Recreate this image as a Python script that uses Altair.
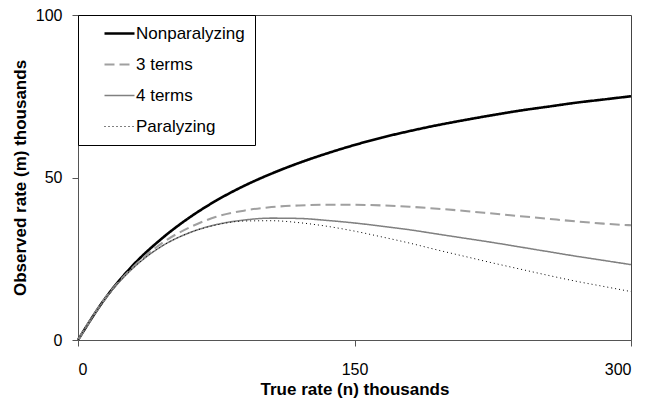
import altair as alt
import pandas as pd

# True rate n (thousands), sampled every 15
true_rate = [0, 15, 30, 45, 60, 75, 90, 105, 120, 135, 150,
             165, 180, 195, 210, 225, 240, 255, 270, 285, 300]

# Observed rate m (thousands)
nonparalyzing = [0, 13.0, 23.1, 31.0, 37.5, 42.9, 47.4, 51.2, 54.5, 57.4, 60.0,
                 62.3, 64.3, 66.1, 67.7, 69.2, 70.6, 71.8, 73.0, 74.0, 75.0]
three_terms = [0, 13.0, 22.5, 29.6, 34.5, 37.9, 39.8, 40.9, 41.4, 41.6, 41.6,
               41.4, 41.0, 40.4, 39.7, 38.9, 38.1, 37.3, 36.5, 35.8, 35.3]
four_terms = [0, 12.9, 22.2, 28.7, 32.9, 35.5, 36.9, 37.5, 37.4, 36.8, 36.0,
              35.0, 33.9, 32.6, 31.3, 30.0, 28.6, 27.2, 25.8, 24.5, 23.2]
paralyzing = [0, 12.9, 22.2, 28.7, 32.9, 35.4, 36.6, 36.7, 36.1, 35.0, 33.5,
              31.7, 29.8, 27.7, 25.7, 23.7, 21.8, 19.9, 18.1, 16.5, 14.9]

series_names = ['Nonparalyzing', '3 terms', '4 terms', 'Paralyzing']
series_values = [nonparalyzing, three_terms, four_terms, paralyzing]

rows = []
for name, vals in zip(series_names, series_values):
    for n, m in zip(true_rate, vals):
        rows.append({'n': n, 'm': m, 'series': name})
data = pd.DataFrame(rows)

legend = alt.Legend(title=None, orient='none', legendX=0, legendY=0)

lines = alt.Chart(data).mark_line(interpolate='monotone').encode(
    x=alt.X('n:Q',
            scale=alt.Scale(domain=[0, 300], nice=False),
            axis=alt.Axis(values=[0, 150, 300], title='True rate (n) thousands')),
    y=alt.Y('m:Q',
            scale=alt.Scale(domain=[0, 100], nice=False),
            axis=alt.Axis(values=[0, 50, 100], title='Observed rate (m) thousands')),
    color=alt.Color('series:N',
                    scale=alt.Scale(domain=series_names,
                                    range=['#000000', '#a0a0a0', '#808080', '#000000']),
                    legend=legend),
    strokeDash=alt.StrokeDash('series:N',
                              scale=alt.Scale(domain=series_names,
                                              range=[[1, 0], [10, 5], [1, 0], [1, 3]]),
                              legend=legend),
    strokeWidth=alt.StrokeWidth('series:N',
                                scale=alt.Scale(domain=series_names, range=[2.6, 1, 3.2, 1.2]),
                                legend=legend),
    order=alt.Order('n:Q')
)

chart = lines.properties(
    width=553,
    height=325,
    autosize=alt.AutoSizeParams(type='none'),
    padding={'left': 70, 'top': 7, 'right': 8, 'bottom': 58}
).configure_view(
    stroke='#444444',
    strokeWidth=1
).configure_axis(
    grid=False,
    domainColor='#555555',
    tickColor='#555555',
    tickSize=6,
    labelFont='Liberation Sans',
    labelFontSize=16,
    labelColor='black',
    titleFont='Liberation Sans',
    titleFontSize=17,
    titleFontWeight='bold',
    titleColor='black'
).configure_axisX(
    labelPadding=15,
    titlePadding=4
).configure_axisY(
    labelPadding=10,
    titlePadding=6
).configure_legend(
    strokeColor='black',
    fillColor='white',
    padding=10,
    symbolType='stroke',
    symbolSize=900,
    symbolOffset=15,
    labelFont='Liberation Sans',
    labelFontSize=17,
    labelColor='black',
    labelOffset=0,
    rowPadding=13,
    clipHeight=17,
    cornerRadius=0
)

chart.save('out.html', embed_options={'renderer': 'svg', 'actions': False})
